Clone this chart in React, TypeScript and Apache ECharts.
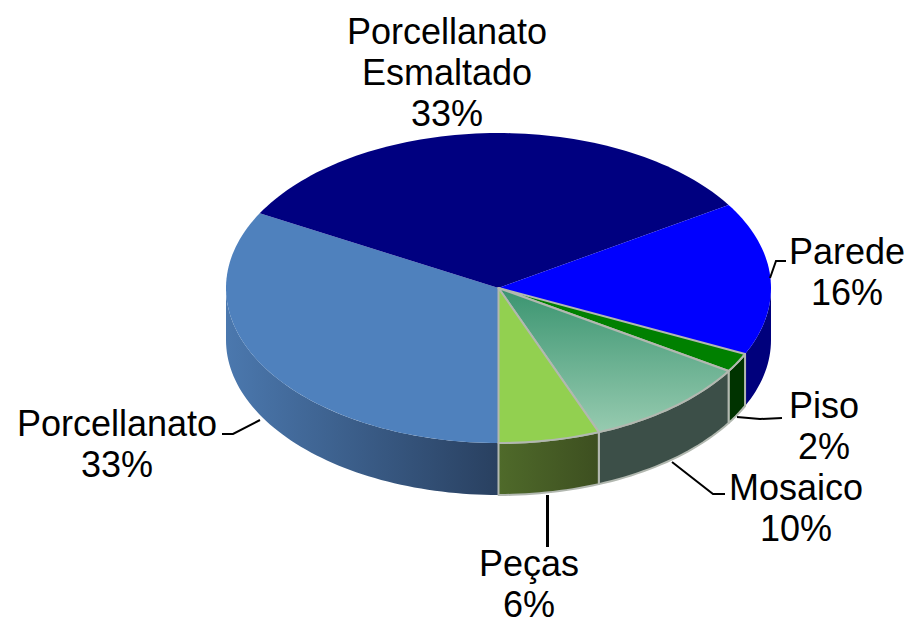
import React, { useEffect, useRef } from "react";
import * as echarts from "echarts";

const sliceNames = ["Porcellanato", "Porcellanato\nEsmaltado", "Parede", "Piso", "Mosaico", "Peças"];
const sliceValues = [33, 33, 16, 2, 10, 6];

const topFills: any[] = [
  "#4f81bd",
  "#000080",
  "#0000ff",
  "#008000",
  { type: "linear", x: 0, y: 0, x2: 0, y2: 1, colorStops: [{ offset: 0, color: "#3a9470" }, { offset: 1, color: "#97cbb0" }] },
  "#92d050",
];
const sideFills: any[] = [
  { type: "linear", x: 0, y: 0, x2: 1, y2: 0, colorStops: [{ offset: 0, color: "#4b78ae" }, { offset: 1, color: "#294060" }] },
  "#000060",
  "#00007c",
  "#003300",
  "#3c4f48",
  { type: "linear", x: 0, y: 0, x2: 1, y2: 0, colorStops: [{ offset: 0, color: "#4f6a2a" }, { offset: 1, color: "#3d4f20" }] },
];
const sliceBorders = [null, null, null, "#b2b8b0", "#b2b8b0", "#b2b8b0"];

const CX = 498.5;
const CY = 288;
const RX = 272.5;
const RY = 155;
const DEPTH = 52;
const START_DEG = 180;
const LINE_STEP = 41;

// y of the last line, x of the centre of each label
const labelAnchors = [
  [117, 464],
  [447, 113],
  [847, 292],
  [824, 446],
  [796, 528],
  [529, 604],
];
const leaders = [
  [[222, 434], [233, 434], [260, 420]],
  null,
  [[770, 278], [776, 261], [786, 261]],
  [[737, 417], [760, 419], [782, 418]],
  [[672, 462], [713, 494], [725, 494]],
  [[547.5, 495], [547.5, 547]],
];

const pt = (deg: number, dy = 0): number[] => {
  const a = (deg * Math.PI) / 180;
  return [CX + RX * Math.sin(a), CY - RY * Math.cos(a) + dy];
};

const arc = (from: number, to: number, dy = 0): number[][] => {
  const n = Math.max(2, Math.ceil(Math.abs(to - from) / 1.5));
  const out: number[][] = [];
  for (let i = 0; i <= n; i++) out.push(pt(from + ((to - from) * i) / n, dy));
  return out;
};

const total = sliceValues.reduce((s, v) => s + v, 0);
const startDegOf = (i: number) =>
  START_DEG + (sliceValues.slice(0, i).reduce((s, v) => s + v, 0) / total) * 360;

// Visible rim: the part of the slice lying in the front half of the ellipse (90..270 deg, mod 360)
const visibleRanges = (a0: number, a1: number): number[][] => {
  const out: number[][] = [];
  for (const k of [0, 360]) {
    const lo = Math.max(a0, 90 + k);
    const hi = Math.min(a1, 270 + k);
    if (hi > lo) out.push([lo, hi]);
  }
  return out;
};

const renderItem = (params: any, api: any) => {
  const i = params.dataIndex;
  const value = api.value(0);
  const a0 = startDegOf(i);
  const a1 = a0 + (value / total) * 360;
  const border = sliceBorders[i];
  const strokeStyle = border ? { stroke: border, lineWidth: 2, lineJoin: "round" } : {};
  const children: any[] = [];
  for (const [lo, hi] of visibleRanges(a0, a1)) {
    children.push({
      type: "polygon",
      shape: { points: [...arc(lo, hi, 0), ...arc(hi, lo, DEPTH)] },
      style: { fill: sideFills[i], ...strokeStyle },
    });
  }
  children.push({
    type: "polygon",
    shape: { points: [[CX, CY], ...arc(a0, a1, 0)] },
    style: { fill: topFills[i], ...strokeStyle },
  });
  return { type: "group", children };
};

export default function App() {
  const ref = useRef<HTMLDivElement>(null);
  useEffect(() => {
    const chart = echarts.init(ref.current!, null, { renderer: "svg" });
    const graphics: any[] = [];
    leaders.forEach((pts, i) => {
      if (!pts) return;
      graphics.push({
        type: "polyline",
        shape: { points: pts },
        style: { stroke: "#000", lineWidth: i === 5 ? 3 : 2, fill: "none" },
        silent: true,
        z: 10,
      });
    });
    sliceNames.forEach((name, i) => {
      const lines = `${name}\n${sliceValues[i]}%`.split("\n");
      lines.forEach((line, k) => {
        graphics.push({
          type: "text",
          x: labelAnchors[i][0],
          y: labelAnchors[i][1] - (lines.length - 1 - k) * LINE_STEP,
          silent: true,
          z: 11,
          style: {
            text: line,
            fill: "#000",
            font: '36px "Liberation Sans", Arial, sans-serif',
            lineHeight: 34,
            align: "center",
            verticalAlign: "middle",
          },
        });
      });
    });
    chart.setOption({
      animation: false,
      backgroundColor: "#fff",
      tooltip: { show: false },
      graphic: graphics,
      series: [
        {
          type: "custom",
          coordinateSystem: "none",
          silent: true,
          renderItem,
          data: sliceValues,
        },
      ],
    });
    return () => chart.dispose();
  }, []);
  return (
    <div
      ref={ref}
      style={{ position: "absolute", left: 0, top: 0, width: 913, height: 625 }}
    />
  );
}
